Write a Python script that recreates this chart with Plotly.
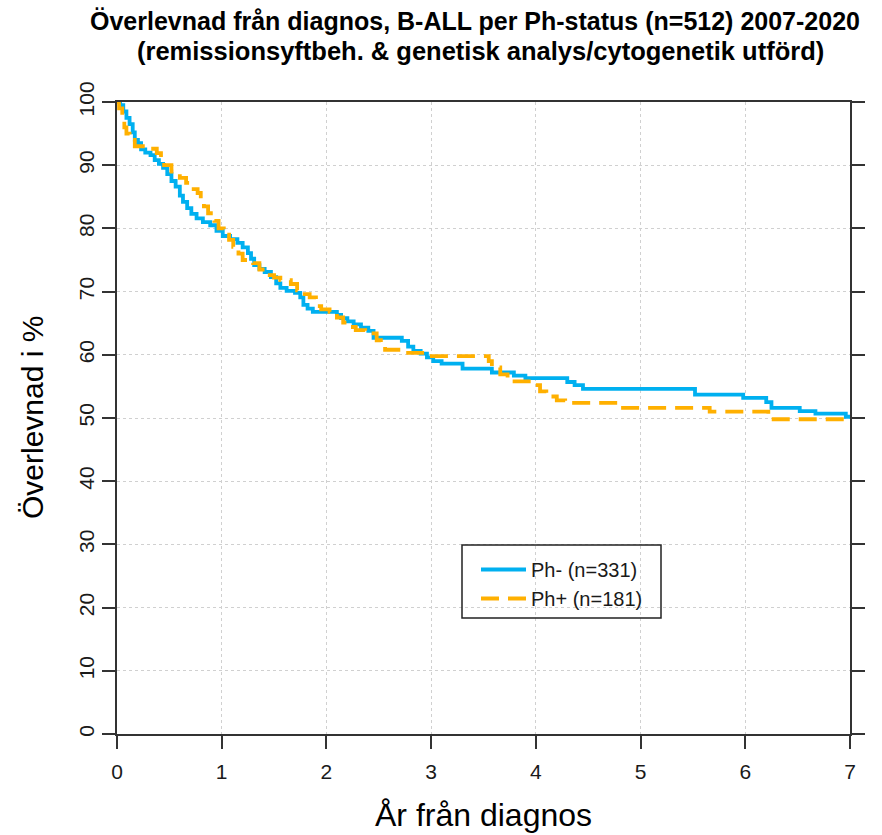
import plotly.graph_objects as go

# Ph- (n=331) Kaplan-Meier estimate (years, survival %)
ph_neg_t = [0, 0.03, 0.06, 0.09, 0.12, 0.15, 0.17, 0.2, 0.23, 0.27, 0.32, 0.36, 0.4, 0.44,
            0.48, 0.52, 0.56, 0.6, 0.63, 0.67, 0.71, 0.76, 0.82, 0.89, 0.95, 1.01, 1.08,
            1.15, 1.2, 1.25, 1.28, 1.31, 1.36, 1.41, 1.47, 1.52, 1.56, 1.62, 1.7, 1.75,
            1.78, 1.82, 1.87, 2.1, 2.14, 2.2, 2.26, 2.33, 2.4, 2.45, 2.72, 2.78, 2.83,
            2.9, 2.96, 3.02, 3.1, 3.3, 3.58, 3.79, 3.9, 4.3, 4.37, 4.45, 5.52, 5.98,
            6.2, 6.25, 6.52, 6.67, 6.96, 7.0]
ph_neg_s = [100, 99.5, 98.5, 97.5, 96.5, 95.2, 94, 93.5, 92.5, 92, 91.6, 90.8, 90.2, 89.6,
            88.6, 87.5, 86.6, 85.2, 84.2, 83.2, 82.3, 81.6, 81, 80.5, 79.6, 78.8, 78.3,
            77.7, 77, 76.1, 75.2, 74.2, 73.6, 73.1, 72.3, 71.3, 70.6, 70.1, 69.8, 69.1,
            67.9, 67.3, 66.8, 66.3, 65.8, 65.3, 64.8, 64.3, 63.8, 62.7, 62.2, 61.3, 60.6,
            60.2, 59.6, 59.0, 58.6, 57.8, 57.2, 56.7, 56.3, 55.7, 55.2, 54.6, 53.7, 53.2,
            52.5, 51.6, 51.1, 50.7, 50.2, 50.2]

# Ph+ (n=181)
ph_pos_t = [0, 0.02, 0.05, 0.07, 0.09, 0.12, 0.17, 0.3, 0.38, 0.42, 0.45, 0.52, 0.6, 0.66,
            0.7, 0.77, 0.8, 0.83, 0.87, 0.93, 0.97, 1.02, 1.07, 1.11, 1.16, 1.2, 1.3,
            1.36, 1.42, 1.5, 1.56, 1.66, 1.72, 1.76, 1.84, 1.9, 1.95, 2.03, 2.1, 2.16,
            2.2, 2.28, 2.37, 2.48, 2.52, 2.56, 2.78, 2.94, 3.55, 3.58, 3.66, 3.73, 3.98,
            4.04, 4.1, 4.2, 4.28, 4.8, 5.66, 6.22, 7.0]
ph_pos_s = [100, 99, 97.5, 96, 95, 94, 93, 92.6, 91.9, 90.8, 90, 89, 88, 87.2,
            86.2, 85.6, 84.5, 83.5, 82.4, 81.2, 80, 79, 78.2, 77.1, 76, 75, 74.5,
            73.5, 72.6, 72.2, 71.8, 71.2, 70.2, 69.6, 69.1, 67.7, 67.2, 66.8, 65.9, 65.1,
            64.4, 63.9, 63.4, 62.3, 61.5, 60.8, 60.3, 59.8, 59.0, 58.0, 56.9, 55.8, 55.2,
            54.2, 53.4, 52.8, 52.4, 51.6, 51.0, 49.8, 49.8]

series_names = ["Ph- (n=331)", "Ph+ (n=181)"]
x_ticks = [0, 1, 2, 3, 4, 5, 6, 7]
y_ticks = [0, 10, 20, 30, 40, 50, 60, 70, 80, 90, 100]

title_lines = ["Överlevnad från diagnos, B-ALL per Ph-status (n=512) 2007-2020",
               "(remissionsyftbeh. & genetisk analys/cytogenetik utförd)"]
x_title = "År från diagnos"
y_title = "Överlevnad i %"

BLUE = "#00B0F0"
ORANGE = "#FFB000"
FONT = "Liberation Sans, Arial, sans-serif"

fig = go.Figure()
fig.add_trace(go.Scatter(x=ph_neg_t, y=ph_neg_s, mode="lines", name=series_names[0],
                         line=dict(color=BLUE, width=3.8, shape="hv")))
fig.add_trace(go.Scatter(x=ph_pos_t, y=ph_pos_s, mode="lines", name=series_names[1],
                         line=dict(color=ORANGE, width=3.8, shape="hv", dash="18px,9px")))

W, H = 882, 835
ml, mr, mt, mb = 117, 32, 102, 101

axis_common = dict(showline=True, linecolor="#333333", linewidth=1.5,
                   ticks="outside", ticklen=13, tickcolor="#333333", tickwidth=1.5,
                   showgrid=True, gridcolor="#D0D0D0", griddash="dot", gridwidth=1,
                   zeroline=False, tickfont=dict(family=FONT, size=21, color="#1a1a1a"))

fig.update_layout(
    width=W, height=H,
    margin=dict(l=ml, r=mr, t=mt, b=mb),
    plot_bgcolor="white", paper_bgcolor="white",
    showlegend=True,
    legend=dict(x=(476 - ml) / (W - ml - mr), y=(H - mb - 550) / (H - mt - mb),
                xanchor="left", yanchor="top",
                bgcolor="rgba(0,0,0,0)", borderwidth=0, itemwidth=45,
                font=dict(family=FONT, size=20, color="#1a1a1a"),
                tracegroupgap=0),
    xaxis=dict(range=[0, 7], tickvals=x_ticks, mirror=True, ticklabelstandoff=5, **axis_common),
    yaxis=dict(range=[0, 100], tickvals=y_ticks, tickangle=-90, mirror="ticks", **axis_common),
)

# legend border box
fig.add_shape(type="rect", xref="paper", yref="paper",
              x0=(462 - ml) / (W - ml - mr), x1=(661 - ml) / (W - ml - mr),
              y0=(H - mb - 618) / (H - mt - mb), y1=(H - mb - 545) / (H - mt - mb),
              line=dict(color="#222222", width=1.5), fillcolor="rgba(0,0,0,0)")

# titles
fig.add_annotation(text="<b>" + title_lines[0] + "</b>", xref="paper", yref="paper",
                   x=(475 - ml) / (W - ml - mr), y=(H - mb - 21) / (H - mt - mb),
                   xanchor="center", yanchor="middle",
                   showarrow=False, font=dict(family=FONT, size=25, color="black"))
fig.add_annotation(text="<b>" + title_lines[1] + "</b>", xref="paper", yref="paper",
                   x=(480 - ml) / (W - ml - mr), y=(H - mb - 51) / (H - mt - mb),
                   xanchor="center", yanchor="middle",
                   showarrow=False, font=dict(family=FONT, size=25.5, color="black"))
fig.add_annotation(text=x_title, xref="paper", yref="paper",
                   x=(483 - ml) / (W - ml - mr), y=(H - mb - 815) / (H - mt - mb),
                   xanchor="center", yanchor="middle",
                   showarrow=False, font=dict(family=FONT, size=32, color="black"))
fig.add_annotation(text=y_title, xref="paper", yref="paper", textangle=-90,
                   x=(32 - ml) / (W - ml - mr), y=(H - mb - 418) / (H - mt - mb),
                   xanchor="center", yanchor="middle",
                   showarrow=False, font=dict(family=FONT, size=30, color="black"))

fig.write_html("out.html")
